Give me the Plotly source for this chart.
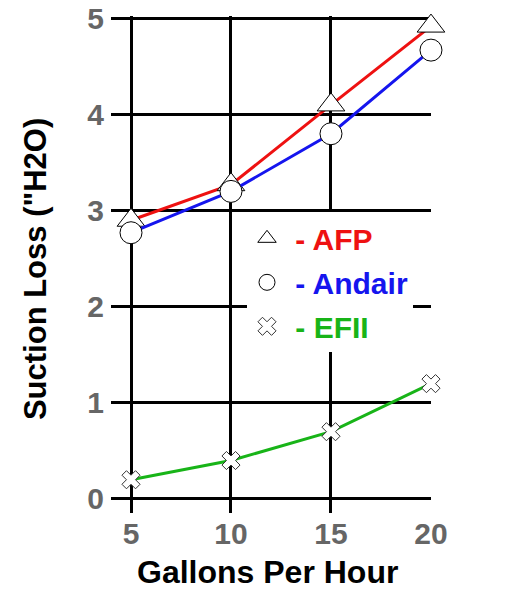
import plotly.graph_objects as go

gph = [5, 10, 15, 20]
afp = [2.9, 3.27, 4.1, 4.92]
andair = [2.77, 3.2, 3.8, 4.67]
efii = [0.2, 0.4, 0.7, 1.2]
x_ticks = [5, 10, 15, 20]
y_ticks = [0, 1, 2, 3, 4, 5]

RED = "#ee1111"
BLUE = "#1515ee"
GREEN = "#18b418"
FONT = "Liberation Sans"

fig = go.Figure()

series = [
    ("- AFP", afp, RED, "triangle-up", 24, "black"),
    ("- Andair", andair, BLUE, "circle", 22, "black"),
    ("- EFII", efii, GREEN, "x", 16, "#333333"),
]

for name, vals, col, sym, sz, lc in series:
    fig.add_trace(go.Scatter(
        x=gph, y=vals, mode="lines+markers", showlegend=False, cliponaxis=False,
        line=dict(color=col, width=3),
        marker=dict(symbol=sym, size=sz, color="white",
                    line=dict(color=lc, width=1)),
    ))

for i, (name, vals, col, sym, sz, lc) in enumerate(series):
    fig.add_trace(go.Scatter(
        x=[None], y=[None], mode="markers", legendgroup=f"g{i}",
        name=f"<span style='color:{col}'>\u00a0{name}</span>",
        marker=dict(symbol=sym, size=sz, color="white",
                    line=dict(color=lc, width=1)),
    ))

fig.update_layout(
    width=513, height=595,
    margin=dict(l=111, r=82, t=16, b=82, autoexpand=False),
    paper_bgcolor="white", plot_bgcolor="white",
    font=dict(family=FONT, size=27, color="black", weight="bold"),
    showlegend=True,
    legend=dict(x=0.425, y=0.605, xanchor="left", yanchor="top",
                bgcolor="white", borderwidth=0, tracegroupgap=2,
                font=dict(family=FONT, size=30, weight="bold"),
                itemsizing="trace"),
    xaxis=dict(range=[4, 20.001], tickvals=x_ticks, showgrid=True, automargin=False,
               gridcolor="black", gridwidth=3, zeroline=False,
               showline=False, ticks="", ticklabelstandoff=0,
               tickfont=dict(family=FONT, size=30, color="#666666", weight="bold")),
    yaxis=dict(range=[-0.146, 5.025], tickvals=y_ticks, showgrid=True, automargin=False,
               gridcolor="black", gridwidth=3, zeroline=False,
               showline=False, ticks="", ticklabelstandoff=6,
               ticklabeloverflow="allow",
               tickfont=dict(family=FONT, size=30, color="#666666", weight="bold")),
    annotations=[
        dict(text="Gallons Per Hour", xref="paper", yref="paper",
             x=0.4875, y=-0.119, xanchor="center", yanchor="middle", showarrow=False,
             font=dict(family=FONT, size=32, color="black", weight="bold")),
        dict(text="Suction Loss (\"H2O)", xref="paper", yref="paper",
             x=-0.234, y=0.491, xanchor="center", yanchor="middle", showarrow=False,
             textangle=-90,
             font=dict(family=FONT, size=31, color="black", weight="bold")),
    ],
)

fig.write_html("out.html", config={"displayModeBar": False},
               post_script="document.body.style.margin='0';")
